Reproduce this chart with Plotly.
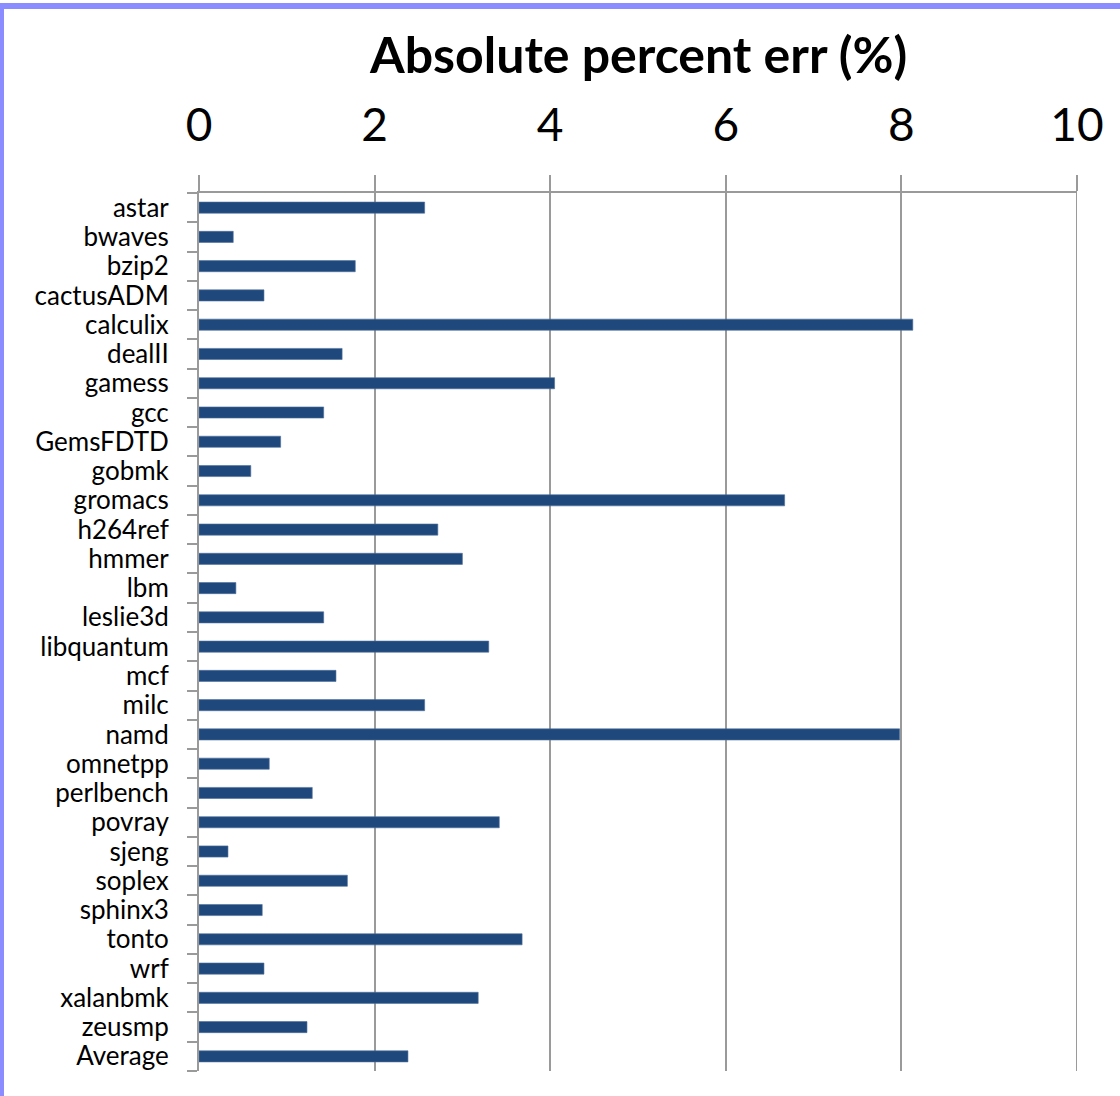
import plotly.graph_objects as go

benchmarks = ["astar", "bwaves", "bzip2", "cactusADM", "calculix", "dealII", "gamess",
              "gcc", "GemsFDTD", "gobmk", "gromacs", "h264ref", "hmmer", "lbm",
              "leslie3d", "libquantum", "mcf", "milc", "namd", "omnetpp", "perlbench",
              "povray", "sjeng", "soplex", "sphinx3", "tonto", "wrf", "xalanbmk",
              "zeusmp", "Average"]
abs_err = [2.57, 0.39, 1.78, 0.74, 8.13, 1.63, 4.05, 1.42, 0.93, 0.59, 6.67, 2.72,
           3.00, 0.42, 1.42, 3.30, 1.56, 2.57, 7.98, 0.80, 1.29, 3.42, 0.33, 1.69,
           0.72, 3.68, 0.74, 3.18, 1.23, 2.38]
x_ticks = [0, 2, 4, 6, 8, 10]

W, H = 1120, 1096
ML, MR, MT, MB = 199, 43, 193, 25
FONT = "Lato, 'Noto Sans', sans-serif"
GRID = "#9a9a9a"

fig = go.Figure(go.Bar(
    x=abs_err, y=benchmarks, orientation="h",
    marker=dict(color="#1f497d", line=dict(color="#4f6f9a", width=0.6)),
    width=0.38,
))

fig.update_layout(
    width=W, height=H,
    margin=dict(l=ML, r=MR, t=MT, b=MB),
    paper_bgcolor="white", plot_bgcolor="white",
    showlegend=False,
    font=dict(family=FONT, color="black"),
    xaxis=dict(
        side="top", range=[0, 10], tickvals=x_ticks,
        showgrid=True, gridcolor=GRID, gridwidth=2,
        showline=True, linecolor=GRID, linewidth=2,
        ticks="outside", ticklen=16, tickwidth=2, tickcolor=GRID,
        tickfont=dict(size=46, family=FONT), ticklabelstandoff=16,
        zeroline=False, fixedrange=True,
    ),
    yaxis=dict(
        autorange="reversed", type="category",
        tickmode="array", tickvals=benchmarks, ticktext=benchmarks,
        showline=True, linecolor=GRID, linewidth=2,
        ticks="outside", tickson="boundaries", ticklen=10, tickwidth=2, tickcolor=GRID,
        tickfont=dict(size=26, family=FONT), ticklabelstandoff=23,
        showgrid=False, zeroline=False, fixedrange=True,
    ),
    annotations=[dict(
        text="<b>Absolute percent err (%)</b>", xref="paper", yref="paper",
        x=0.5, y=1, yshift=139, xanchor="center", yanchor="middle",
        showarrow=False, font=dict(size=50, family=FONT, color="black"),
    )],
    shapes=[
        # right-hand gridline at the end of the value range
        dict(type="line", xref="x", yref="paper", x0=10, x1=10, y0=0, y1=1,
             line=dict(color=GRID, width=2), layer="below"),
        # outer frame
        dict(type="line", xref="paper", yref="paper",
             x0=-(ML - 3) / (W - ML - MR), x1=(W - ML) / (W - ML - MR),
             y0=1 + (MT - 6) / (H - MT - MB), y1=1 + (MT - 6) / (H - MT - MB),
             line=dict(color="#8a8cff", width=6)),
        dict(type="line", xref="paper", yref="paper",
             x0=-(ML - 2) / (W - ML - MR), x1=-(ML - 2) / (W - ML - MR),
             y0=-MB / (H - MT - MB), y1=1 + (MT - 3) / (H - MT - MB),
             line=dict(color="#8a8cff", width=4)),
    ],
)

fig.write_html("out.html")
